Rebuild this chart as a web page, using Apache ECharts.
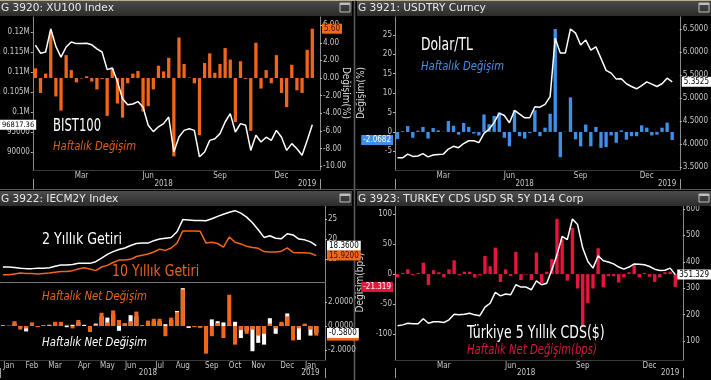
<!DOCTYPE html>
<html><head><meta charset="utf-8">
<script src="https://cdn.jsdelivr.net/npm/echarts@6/dist/echarts.min.js"></script>
<style>html,body{margin:0;padding:0;background:#000}#c{width:711px;height:380px}</style>
</head><body><div id="c"></div>
<script>
// ---------- categories (weekly, Jan 2018 - Jan 2019, last slot empty) ----------
const weeks = [];
for (let i = 0; i < 56; i++) { const d = new Date(Date.UTC(2018, 0, 5 + 7 * i)); weeks.push(d.toISOString().slice(0, 10)); }
const monthsA = {9:'Mar', 22:'Jun', 36:'Sep', 48:'Dec'};
const monthsB = {9:'Mar', 22:'Jun', 36:'Sep', 49:'Dec'};
const monthsC = {1:'Jan', 5:'Feb', 9:'Mar', 14:'Apr', 18:'May', 22:'Jun', 27:'Jul', 31:'Aug', 36:'Sep', 40:'Oct', 44:'Nov', 49:'Dec', 53:'Jan'};
const years = {25:'2018', 53:'2019'};

// ---------- panel 1: BIST100 ----------
const bist100 = [116700,114700,115000,120800,116400,113700,116250,117500,117100,117100,117200,116800,115800,115000,110600,111000,107600,103300,101800,102000,102600,101200,96700,95100,96300,97100,98750,90000,93750,95400,95800,95400,88800,90000,92900,93300,94600,97500,99600,95000,97100,96700,90400,94200,92500,93700,92900,95400,93700,90400,92100,90800,89200,92900,96817.36];
const bistChg = [1.1,-1.7,0.5,5.2,-2.1,-3.7,2.6,0.9,-0.5,-0.05,0.2,-0.4,-1.3,-0.1,-4.3,1.1,-2.9,-4.5,-0.6,0.5,0.8,-3.8,-3.2,-1.3,1.4,0.75,2.3,-8.9,4.6,1.6,0.05,-0.6,-6.5,1.7,2.8,0.6,1.6,3.4,2.1,-5.0,1.9,-0.1,-6.0,4.0,-1.2,0.9,-0.6,2.6,-1.7,-3.3,1.5,-1.4,-1.7,3.2,5.6];
const p1Left = [120000,115000,110000,105000,100000,95000,90000];
const p1Right = [6,4,2,0,-2,-4,-6,-8,-10];

// ---------- panel 2: USDTRY ----------
const usdtry = [3.70,3.70,3.78,3.73,3.74,3.79,3.72,3.76,3.77,3.78,3.89,3.95,3.92,4.01,4.07,4.07,4.03,4.23,4.32,4.47,4.67,4.62,4.46,4.73,4.65,4.57,4.57,4.81,4.80,4.86,5.03,6.30,5.98,5.98,6.50,6.41,6.15,6.26,6.04,6.11,5.86,5.60,5.54,5.41,5.42,5.31,5.25,5.20,5.27,5.35,5.30,5.25,5.31,5.43,5.3525];
const usdChg = [-1.8,0.2,1.5,-1.5,0.3,1.3,-1.7,1.0,0.4,0.05,2.8,1.6,-0.7,2.3,1.3,-0.4,-0.9,4.5,2.0,4.1,5.0,-1.5,-3.7,5.6,-1.1,-1.7,-0.3,5.6,-1.1,1.1,4.7,26.5,-6.5,0.05,8.9,-1.9,-3.7,1.9,-3.7,1.3,-4.1,-3.9,-0.9,-2.8,0.4,-2.0,-1.1,-1.1,1.7,1.1,-0.9,-0.7,1.1,2.4,-2.0682];
const p2Left = [25,20,15,10,5,0,-5];
const p2Right = [6.5,6.0,5.5,5.0,4.5,4.0,3.5];

// ---------- panel 3: 2Y / 10Y yields ----------
const y2 = [13.1,13.1,13.0,12.8,12.7,12.7,12.8,12.8,12.9,13.3,13.6,13.6,13.7,14.0,14.0,14.0,14.4,15.3,16.2,16.9,17.4,17.8,18.4,18.9,19.0,19.0,19.6,20.0,20.2,20.4,21.8,24.8,24.7,24.6,24.6,24.5,25.0,25.6,26.1,26.6,27.0,26.4,25.4,24.0,22.3,20.4,20.8,20.2,20.1,21.3,21.0,20.0,19.8,19.3,18.36];
const y10 = [11.2,11.2,11.4,11.6,11.5,11.5,11.4,11.5,11.6,11.8,12.0,12.0,12.2,12.6,12.9,12.6,12.2,13.1,13.5,14.2,14.8,14.8,15.0,15.7,16.0,16.3,16.8,17.5,17.2,17.8,19.0,22.0,22.0,22.0,21.9,19.0,19.2,18.9,18.0,20.5,19.2,18.8,18.2,17.9,17.7,16.9,16.8,16.8,17.0,17.8,16.7,16.6,16.6,16.5,15.92];
const chg2 = [0.05,0.0,0.2,-0.1,-0.45,0.1,-0.05,0.05,0.1,0.2,0.2,-0.1,0.1,0.3,0.1,-0.2,0.2,0.8,0.7,1.0,-0.4,0.2,0.9,0.8,0.05,0.3,0.4,0.4,0.15,0.5,1.25,3.15,-0.17,-0.05,-0.1,-1.5,0.55,0.4,0.3,0.1,0.35,-1.0,-0.4,-2.1,-1.4,-1.55,0.65,-0.65,0.2,1.05,-0.3,-1.15,0.1,-0.8,-0.58];
const chg10 = [0.0,0.05,0.4,-0.3,-0.2,0.3,-0.1,0.0,0.05,0.35,0.35,0.1,-0.2,0.5,0.0,-0.5,0.1,1.1,0.3,1.3,0.5,0.25,0.4,1.2,0.0,0.45,0.6,0.6,-0.85,0.7,1.15,3.05,-0.05,-0.1,-0.15,-2.3,-0.85,0.25,-1.0,2.6,-1.55,-0.35,-0.65,-0.3,-0.8,-0.65,0.2,-0.2,0.35,0.8,-1.2,-0.2,0.2,-0.3,-0.8];
const p3Upper = [25,20,15];
const p3Lower = [2,0,-2];

// ---------- panel 4: CDS ----------
const cds = [158,161,167,165,165,184,167,173,173,170,180,201,199,201,205,199,196,228,243,284,271,278,275,313,304,304,294,328,313,319,370,427,496,484,562,541,452,401,376,423,404,399,392,380,372,380,392,391,389,382,372,367,368,376,351.329];
const cdsChg = [-5.5,2,8,-2,2,19,-18,6.5,3,-5.5,8,23,-2,4,4,-5.5,-2,30,13,44,-13,8,-3,37,-10,-1,-10,36,-15,4,25,92,58,-11,77,-24,-85,-48,-24,43,-22,-3.5,-3.5,-14,-5.5,3,15,-5.5,2,-4.5,-13,-5.5,3,4,-21.319];
const p4Left = [100,50,0,-50,-100];
const p4Right = [600,500,400,300,200,100];

// ---------- styling helpers ----------
const FONT = '"Liberation Sans Narrow","DejaVu Sans Condensed","Arial Narrow",sans-serif';
const LBL = '#c8c8c8', AXC = '#8a8a8a';
const ORANGE = '#f0661c', BLUE = '#3f8fe6', RED = '#e3173d';
const last = a => a[a.length - 1];

function monthAxis(grid, map) {
  return {type:'category', gridIndex:grid, data:weeks, position:'bottom', boundaryGap:true,
    axisLine:{show:true, onZero:false, lineStyle:{color:'#3a3a3a'}}, axisTick:{show:false},
    axisLabel:{interval:(i)=>map[i]!==undefined, formatter:(v,i)=>map[i]||'', color:LBL, fontSize:8, fontFamily:FONT, margin:2}};
}
function yearAxis(grid, off) {
  return {type:'category', gridIndex:grid, data:weeks, position:'bottom', offset:off, boundaryGap:true,
    axisLine:{show:false, onZero:false},
    axisTick:{show:true, interval:(i)=>i===51, length:10, lineStyle:{color:'#9a9a9a'}},
    axisLabel:{interval:(i)=>years[i]!==undefined, formatter:(v,i)=>years[i]||'', color:LBL, fontSize:8, fontFamily:FONT, margin:1}};
}
function tag(value, text, bg, fg, size, z) {
  return {show:true, type:'line', value:value, status:'show', snap:false, triggerTooltip:false, z:z || 50,
    lineStyle:{opacity:0, width:0},
    label:{show:true, formatter:()=>text, backgroundColor:bg, color:fg, fontSize:size || 8, fontFamily:FONT, padding:[1,2,1,2], margin:2, borderRadius:0}};
}
function valAxis(grid, pos, min, max, vals, fmt, extra) {
  return Object.assign({type:'value', gridIndex:grid, position:pos, min:min, max:max,
    splitLine:{show:false},
    axisLine:{show:true, lineStyle:{color:AXC}},
    axisTick:{show:true, length:2, customValues:vals, lineStyle:{color:'#bbb'}},
    axisLabel:{customValues:vals, formatter:fmt, color:LBL, fontSize:8, fontFamily:FONT, margin:3},
    nameTextStyle:{color:'#d8d8d8', fontSize:10, fontFamily:FONT}}, extra || {});
}
function hiddenAxis(grid, pos, min, max, ptr) {
  return {type:'value', gridIndex:grid, position:pos, min:min, max:max, splitLine:{show:false},
    axisLine:{show:false}, axisTick:{show:false}, axisLabel:{show:false}, axisPointer:ptr};
}
const kFmt = v => v >= 100000 ? (v / 1e6) + 'M' : String(v);

// ---------- graphic (title bars, separators, annotations) ----------
const grad = () => new echarts.graphic.LinearGradient(0,0,0,1,[{offset:0,color:'#4c4c4c'},{offset:1,color:'#2c2c2c'}]);
function titleBar(x, y, w, h, text) {
  return [
    {type:'rect', shape:{x:x, y:y, width:w, height:h}, style:{fill:grad()}, z:10},
    {type:'text', x:x+1, y:y+h/2+0.5, scaleX:0.96, style:{x:0, y:0, text:text, fill:'#e6e6e6', font:'11px "DejaVu Sans", sans-serif', verticalAlign:'middle'}, z:11},
    {type:'rect', shape:{x:x+w-12, y:y+3, width:10, height:h-7}, style:{fill:'none', stroke:'#bdbdbd', lineWidth:1}, z:11},
    {type:'rect', shape:{x:x+w-12, y:y+3, width:10, height:2}, style:{fill:'#bdbdbd'}, z:11}
  ];
}
function note(x, y, text, color, size, italic, sx) {
  return {type:'text', x:x, y:y, scaleX:sx, style:{x:0, y:0, text:text, fill:color, verticalAlign:'middle',
    font:(italic ? 'italic ' : '') + size + 'px ' + FONT}, z:20};
}
function vname(x, y, text, rot) {
  return {type:'text', x:x, y:y, rotation:rot, style:{text:text, fill:'#d8d8d8', align:'center', verticalAlign:'middle',
    font:'10px ' + FONT}, z:20};
}
const graphics = [].concat(
  [{type:'rect', shape:{x:353, y:0, width:3, height:380}, style:{fill:'#1a1a1a'}},
   {type:'line', shape:{x1:354.5, y1:0, x2:354.5, y2:380}, style:{stroke:'#5a5a5a', lineWidth:1}},
   {type:'line', shape:{x1:0, y1:189.5, x2:711, y2:189.5}, style:{stroke:'#5a5a5a', lineWidth:1}},
   {type:'line', shape:{x1:0, y1:0.5, x2:711, y2:0.5}, style:{stroke:'#b9ab8c', lineWidth:1}, z:12}],
  titleBar(0, 0, 352, 16, 'G 3920: XU100 Index'),
  titleBar(357, 0, 354, 16, 'G 3921: USDTRY Curncy'),
  titleBar(0, 191, 352, 15, 'G 3922: IECM2Y Index'),
  titleBar(357, 191, 354, 15, 'G 3923: TURKEY CDS USD SR 5Y D14 Corp'),
  [note(53, 127, 'BIST100', '#ffffff', 17, false, 0.76),
   note(53, 147, 'Haftalık Değişim', '#e0601d', 13, true, 0.86),
   note(421, 46, 'Dolar/TL', '#ffffff', 17, false, 0.81),
   note(421, 67, 'Haftalık Değişim', '#4b8fe0', 13, true, 0.86),
   note(42, 240, '2 Yıllık Getiri', '#ffffff', 16, false, 0.88),
   note(112, 272, '10 Yıllık Getiri', '#e8641e', 16, false, 0.87),
   note(42, 297, 'Haftalık Net Değişim', '#e8641e', 13, true, 0.87),
   note(42, 343, 'Haftalık Net Değişim', '#ffffff', 13, true, 0.87),
   note(467, 334, 'Türkiye 5 Yıllık CDS($)', '#ffffff', 17, false, 0.82),
   note(467, 350, 'Haftalık Net Değişim(bps)', '#d51a3a', 13.5, true, 0.83),
   vname(346, 93, 'Değişim(%)', -Math.PI / 2),
   vname(361, 93, 'Değişim(%)', Math.PI / 2)]
);

const option = {
  backgroundColor:'#000',
  animation:false,
  graphic: graphics,
  grid:[
    {left:32, top:17, width:288, height:153},
    {left:395, top:17, width:290, height:153},
    {left:0, top:205, width:325, height:77},
    {left:0, top:283, width:325, height:77},
    {left:395, top:205, width:288, height:155}
  ],
  xAxis:[
    monthAxis(0, monthsA), yearAxis(0, 9),
    monthAxis(1, monthsB), yearAxis(1, 9),
    {type:'category', gridIndex:2, data:weeks, boundaryGap:true, axisLine:{show:true, onZero:false, lineStyle:{color:'#777'}}, axisTick:{show:false}, axisLabel:{show:false}},
    monthAxis(3, monthsC), yearAxis(3, 8),
    monthAxis(4, monthsB), yearAxis(4, 8)
  ],
  yAxis:[
    valAxis(0, 'left', 85500, 123750, p1Left, kFmt, {axisPointer:tag(last(bist100), '96817.36', '#ffffff', '#000', 7.5)}),
    valAxis(0, 'right', -10.45, 6.93, p1Right, v => v.toFixed(2),
      {axisPointer:tag(last(bistChg), last(bistChg).toFixed(2), '#f26a1a', '#3a0a00')}),
    valAxis(1, 'left', -9.8, 29.6, p2Left, v => String(v),
      {axisPointer:tag(last(usdChg), last(usdChg).toFixed(4), '#3f8fe6', '#ffffff')}),
    valAxis(1, 'right', 3.435, 6.76, p2Right, v => v.toFixed(4), {axisPointer:tag(last(usdtry), last(usdtry).toFixed(4), '#ffffff', '#000')}),
    valAxis(2, 'right', 9.4, 28.4, p3Upper, v => String(v), {axisPointer:tag(last(y2), last(y2).toFixed(4), '#ffffff', '#000')}),
    hiddenAxis(2, 'right', 9.4, 28.4, tag(last(y10), last(y10).toFixed(4), '#ef661d', '#3a0a00')),
    hiddenAxis(3, 'right', -2.83, 3.58, tag(last(chg10), last(chg10).toFixed(4), '#ef661d', '#3a0a00', 8, 40)),
    valAxis(3, 'right', -2.83, 3.58, p3Lower, v => v.toFixed(4), {axisPointer:tag(last(chg2), last(chg2).toFixed(4), '#ffffff', '#000', 8, 60)}),
    valAxis(4, 'left', -143, 115, p4Left, v => String(v),
      {name:'Değişim(bps)', nameLocation:'middle', nameGap:30, nameRotate:90, axisPointer:tag(last(cdsChg), last(cdsChg).toFixed(3), '#e3173d', '#ffffff')}),
    valAxis(4, 'right', 28, 615, p4Right, v => String(v), {axisPointer:tag(last(cds), last(cds).toFixed(3), '#ffffff', '#000')})
  ],
  series:[
    {type:'bar', xAxisIndex:0, yAxisIndex:1, data:bistChg, barWidth:'64%', itemStyle:{color:ORANGE}, z:2},
    {type:'line', xAxisIndex:0, yAxisIndex:0, data:bist100, symbol:'none', lineStyle:{color:'#fff', width:1.5}, z:3},
    {type:'bar', xAxisIndex:2, yAxisIndex:2, data:usdChg, barWidth:'66%', itemStyle:{color:BLUE}, z:2},
    {type:'line', xAxisIndex:2, yAxisIndex:3, data:usdtry, symbol:'none', lineStyle:{color:'#fff', width:1.5}, z:3},
    {type:'line', xAxisIndex:4, yAxisIndex:4, data:y2, symbol:'none', lineStyle:{color:'#fff', width:1.5}, z:3},
    {type:'line', xAxisIndex:4, yAxisIndex:4, data:y10, symbol:'none', lineStyle:{color:ORANGE, width:1.5}, z:3},
    {type:'bar', xAxisIndex:5, yAxisIndex:7, data:chg2, barWidth:'70%', barGap:'-100%', itemStyle:{color:'#ffffff'}, z:2},
    {type:'bar', xAxisIndex:5, yAxisIndex:7, data:chg10, barWidth:'70%', barGap:'-100%', itemStyle:{color:ORANGE}, z:3},
    {type:'bar', xAxisIndex:7, yAxisIndex:8, data:cdsChg, barWidth:'66%', itemStyle:{color:RED}, z:2},
    {type:'line', xAxisIndex:7, yAxisIndex:9, data:cds, symbol:'none', lineStyle:{color:'#fff', width:1.5}, z:3}
  ]
};
const chart = echarts.init(document.getElementById('c'));
chart.setOption(option);
</script>
</body></html>
